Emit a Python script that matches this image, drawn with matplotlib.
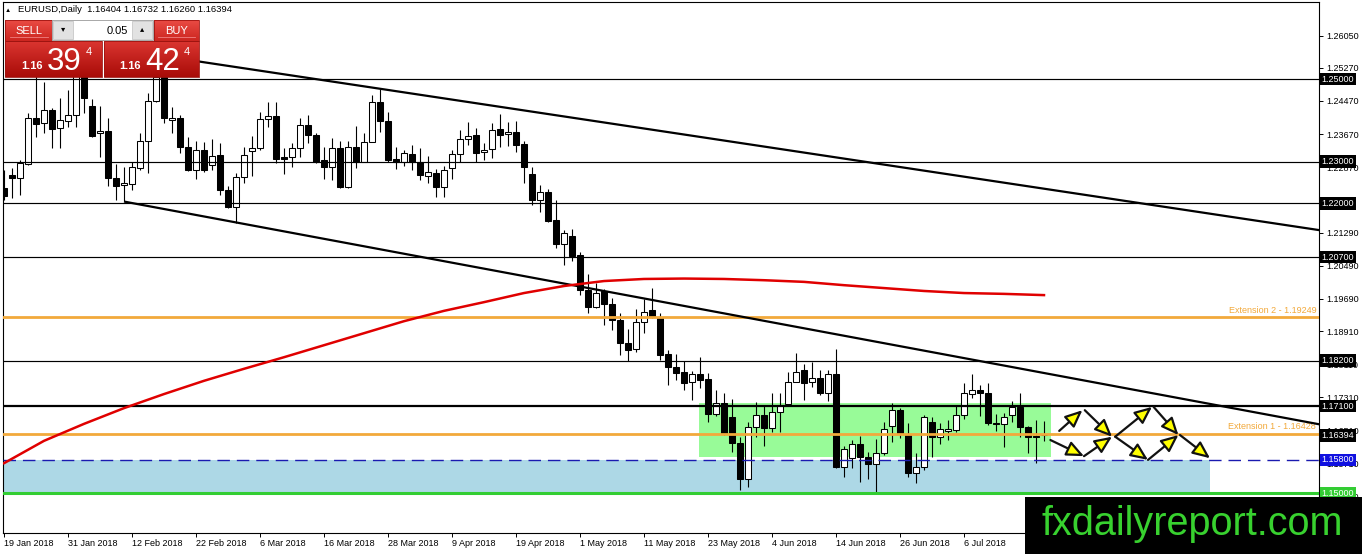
"""EURUSD daily chart, MT4 style, with channel lines and projection arrows."""
import matplotlib
matplotlib.use("Agg")
import matplotlib.pyplot as plt
import numpy as np
from matplotlib.patches import Rectangle

plt.rcParams['font.family'] = ['Liberation Sans', 'DejaVu Sans']

W, H = 1362, 554

# ── data ─────────────────────────────────────────────────────────────────────
date_labels = ["19 Jan 2018", "31 Jan 2018", "12 Feb 2018", "22 Feb 2018", "6 Mar 2018",
               "16 Mar 2018", "28 Mar 2018", "9 Apr 2018", "19 Apr 2018", "1 May 2018",
               "11 May 2018", "23 May 2018", "4 Jun 2018", "14 Jun 2018", "26 Jun 2018",
               "6 Jul 2018"]
label_bars = [0, 8, 16, 24, 32, 40, 48, 56, 64, 72, 80, 88, 96, 104, 112, 120]

opens = [1.2237, 1.2268, 1.2261, 1.2295, 1.2405, 1.2393, 1.2425, 1.2381, 1.2399, 1.2413,
         1.2508, 1.2435, 1.2369, 1.2374, 1.2262, 1.2243, 1.2246, 1.2286, 1.2350, 1.2448,
         1.2505, 1.2401, 1.2407, 1.2335, 1.2280, 1.2328, 1.2292, 1.2316, 1.2232, 1.2192,
         1.2264, 1.2326, 1.2333, 1.2403, 1.2411, 1.2311, 1.2311, 1.2333, 1.2388, 1.2365,
         1.2304, 1.2287, 1.2333, 1.2238, 1.2335, 1.2300, 1.2349, 1.2445, 1.2399, 1.2306,
         1.2300, 1.2319, 1.2300, 1.2266, 1.2274, 1.2238, 1.2284, 1.2319, 1.2354, 1.2365,
         1.2323, 1.2330, 1.2379, 1.2366, 1.2373, 1.2343, 1.2270, 1.2208, 1.2228, 1.2159,
         1.2101, 1.2121, 1.2075, 1.1990, 1.1949, 1.1989, 1.1957, 1.1918, 1.1863, 1.1847,
         1.1912, 1.1942, 1.1922, 1.1836, 1.1804, 1.1793, 1.1769, 1.1787, 1.1775, 1.1692,
         1.1717, 1.1683, 1.1620, 1.1535, 1.1659, 1.1688, 1.1656, 1.1696, 1.1715, 1.1769,
         1.1797, 1.1769, 1.1779, 1.1741, 1.1787, 1.1563, 1.1584, 1.1618, 1.1586, 1.1569,
         1.1597, 1.1662, 1.1700, 1.1642, 1.1549, 1.1563, 1.1672, 1.1635, 1.1650, 1.1652,
         1.1688, 1.1738, 1.1749, 1.1741, 1.1670, 1.1667, 1.1688, 1.1708, 1.1659, 1.1638,
         1.16404]
highs = [1.2280, 1.2284, 1.2304, 1.2417, 1.2537, 1.2493, 1.2430, 1.2453, 1.2473, 1.2523,
         1.2518, 1.2452, 1.2435, 1.2405, 1.2295, 1.2287, 1.2300, 1.2369, 1.2465, 1.2512,
         1.2555, 1.2433, 1.2413, 1.2359, 1.2351, 1.2349, 1.2354, 1.2345, 1.2241, 1.2274,
         1.2336, 1.2362, 1.2421, 1.2445, 1.2445, 1.2333, 1.2345, 1.2407, 1.2413, 1.2370,
         1.2335, 1.2357, 1.2351, 1.2350, 1.2386, 1.2370, 1.2461, 1.2475, 1.2421, 1.2336,
         1.2328, 1.2341, 1.2333, 1.2314, 1.2282, 1.2290, 1.2328, 1.2377, 1.2397, 1.2381,
         1.2345, 1.2394, 1.2415, 1.2397, 1.2399, 1.2351, 1.2288, 1.2244, 1.2234, 1.2208,
         1.2135, 1.2137, 1.2083, 1.2029, 1.2008, 1.1992, 1.1970, 1.1935, 1.1895, 1.1944,
         1.1968, 1.1994, 1.1935, 1.1845, 1.1836, 1.1820, 1.1795, 1.1828, 1.1789, 1.1749,
         1.1741, 1.1726, 1.1636, 1.1672, 1.1721, 1.1713, 1.1742, 1.1741, 1.1793, 1.1837,
         1.1812, 1.1817, 1.1797, 1.1798, 1.1849, 1.1614, 1.1628, 1.1638, 1.1600, 1.1630,
         1.1672, 1.1718, 1.1705, 1.1668, 1.1597, 1.1688, 1.1684, 1.1670, 1.1676, 1.1713,
         1.1766, 1.1787, 1.1761, 1.1765, 1.1692, 1.1694, 1.1722, 1.1742, 1.1662, 1.1676,
         1.16732]
lows = [1.2208, 1.2213, 1.2220, 1.2292, 1.2361, 1.2370, 1.2333, 1.2333, 1.2385, 1.2384,
        1.2418, 1.2360, 1.2312, 1.2242, 1.2208, 1.2205, 1.2232, 1.2280, 1.2274, 1.2445,
        1.2393, 1.2369, 1.2321, 1.2278, 1.2258, 1.2276, 1.2280, 1.2220, 1.2188, 1.2151,
        1.2250, 1.2266, 1.2328, 1.2383, 1.2296, 1.2271, 1.2288, 1.2312, 1.2345, 1.2298,
        1.2258, 1.2256, 1.2237, 1.2237, 1.2284, 1.2299, 1.2348, 1.2373, 1.2299, 1.2282,
        1.2290, 1.2280, 1.2256, 1.2248, 1.2216, 1.2214, 1.2258, 1.2300, 1.2341, 1.2300,
        1.2304, 1.2308, 1.2336, 1.2338, 1.2324, 1.2248, 1.2196, 1.2179, 1.2155, 1.2093,
        1.2051, 1.2061, 1.1978, 1.1934, 1.1946, 1.1906, 1.1894, 1.1833, 1.1820, 1.1841,
        1.1887, 1.1923, 1.1821, 1.1761, 1.1773, 1.1749, 1.1725, 1.1753, 1.1672, 1.1686,
        1.1640, 1.1600, 1.1507, 1.1515, 1.1636, 1.1614, 1.1648, 1.1648, 1.1715, 1.1768,
        1.1725, 1.1757, 1.1737, 1.1723, 1.1560, 1.1539, 1.1560, 1.1527, 1.1533, 1.1503,
        1.1592, 1.1624, 1.1632, 1.1538, 1.1523, 1.1556, 1.1588, 1.1618, 1.1628, 1.1648,
        1.1678, 1.1729, 1.1686, 1.1664, 1.1650, 1.1610, 1.1672, 1.1636, 1.1597, 1.1572,
        1.16260]
closes = [1.2217, 1.2260, 1.2296, 1.2405, 1.2391, 1.2425, 1.2379, 1.2401, 1.2413, 1.2508,
          1.2453, 1.2362, 1.2375, 1.2262, 1.2242, 1.2248, 1.2288, 1.2350, 1.2448, 1.2505,
          1.2405, 1.2405, 1.2335, 1.2280, 1.2328, 1.2280, 1.2315, 1.2232, 1.2192, 1.2264,
          1.2316, 1.2333, 1.2403, 1.2411, 1.2307, 1.2306, 1.2333, 1.2388, 1.2365, 1.2300,
          1.2287, 1.2333, 1.2238, 1.2335, 1.2300, 1.2349, 1.2445, 1.2399, 1.2304, 1.2300,
          1.2321, 1.2300, 1.2268, 1.2275, 1.2238, 1.2280, 1.2319, 1.2354, 1.2363, 1.2322,
          1.2328, 1.2377, 1.2365, 1.2373, 1.2341, 1.2287, 1.2208, 1.2228, 1.2158, 1.2101,
          1.2127, 1.2072, 1.1990, 1.1949, 1.1984, 1.1957, 1.1918, 1.1862, 1.1845, 1.1914,
          1.1938, 1.1926, 1.1833, 1.1804, 1.1791, 1.1766, 1.1787, 1.1773, 1.1692, 1.1717,
          1.1642, 1.1620, 1.1535, 1.1659, 1.1688, 1.1656, 1.1696, 1.1713, 1.1769, 1.1793,
          1.1765, 1.1779, 1.1741, 1.1787, 1.1563, 1.1606, 1.1618, 1.1586, 1.1569, 1.1597,
          1.1654, 1.1700, 1.1642, 1.1549, 1.1563, 1.1683, 1.1635, 1.1654, 1.1654, 1.1688,
          1.1741, 1.1749, 1.1741, 1.1668, 1.1666, 1.1683, 1.1707, 1.1659, 1.1636, 1.1636,
          1.16394]

# moving average (red), sampled every 5 bars
ma_bars = [0, 5, 10, 15, 20, 25, 30, 35, 40, 45, 50, 55, 60, 65, 70, 75, 80, 85, 90,
           95, 100, 105, 110, 115, 120, 125, 130]
ma_vals = [1.1572, 1.1626, 1.1667, 1.1705, 1.1739, 1.1771, 1.1800, 1.1828, 1.1857, 1.1886,
           1.1915, 1.1940, 1.1961, 1.1983, 1.2000, 1.2012, 1.2017, 1.2018, 1.2017, 1.2014,
           1.2010, 1.2002, 1.1995, 1.1988, 1.1983, 1.1981, 1.1978]

black_levels = [1.25, 1.23, 1.22, 1.207, 1.182, 1.171]
ext_levels = [1.19249, 1.16428]
ext_names = ["Extension 2 - 1.19249", "Extension 1 - 1.16428"]
support_blue = 1.158
support_green = 1.150
last_price = 1.16394

upper_line = ([20, 164.4], [1.2555, 1.2135])
lower_line = ([15, 164.4], [1.2204, 1.1666])

blue_zone = (-1, 150.75, 1.150, 1.158)
green_zone = (86.9, 130.9, 1.1586, 1.1718)

# projected path (start bar, start price, end bar, end price)
arrows = [(131.9, 1.1650, 134.8, 1.1700), (135.1, 1.1700, 138.5, 1.1636),
          (130.8, 1.1628, 135.0, 1.1589), (135.0, 1.1589, 138.5, 1.1636),
          (138.9, 1.1636, 143.5, 1.1708), (138.9, 1.1636, 143.0, 1.1580),
          (143.7, 1.1708, 146.8, 1.1640), (143.0, 1.1580, 146.8, 1.1640),
          (147.0, 1.1640, 150.75, 1.1584)]

yticks = [1.2605, 1.2527, 1.2447, 1.2367, 1.2287, 1.2207, 1.2129, 1.2049, 1.1969,
          1.1891, 1.1811, 1.1731, 1.1651, 1.1571, 1.1491]
hidden_ticks = [1.2207]   # fully covered by the 1.22000 price box

# ── figure ───────────────────────────────────────────────────────────────────
fig = plt.figure(figsize=(W / 100, H / 100), dpi=100)
fig.patch.set_facecolor("white")
ax = fig.add_axes([3 / W, (H - 533) / H, (1319 - 3) / W, (533 - 2) / H])
ax.set_xlim(-0.125, 164.375)
ax.set_ylim(1.14034, 1.26860)

ORANGE = "#F2A93B"

# zones
ax.fill_between([blue_zone[0], blue_zone[1]], blue_zone[2], blue_zone[3],
                color="#ADD8E6", lw=0, zorder=1)
ax.fill_between([green_zone[0], green_zone[1]], green_zone[2], green_zone[3],
                color="#98FB98", lw=0, zorder=1.5)

# candles
idx = np.arange(len(opens))
o, h, l, c = map(np.array, (opens, highs, lows, closes))
ax.vlines(idx, l, h, color="black", lw=0.8, zorder=3)
bull = c >= o
ax.bar(idx, np.abs(c - o), bottom=np.minimum(o, c), width=0.7,
       color=np.where(bull, "white", "black"), edgecolor="black", lw=0.75, zorder=4)

# horizontal levels
for lv in black_levels:
    ax.axhline(lv, color="black", lw=1.6 if lv == 1.171 else 0.85, zorder=5)
for lv, nm in zip(ext_levels, ext_names):
    ax.axhline(lv, color=ORANGE, lw=2.0, zorder=5)
    ax.annotate(nm, xy=(1.0, lv), xycoords=ax.get_yaxis_transform(),
                xytext=(-2, 1.8), textcoords="offset points", ha="right", va="bottom",
                color=ORANGE, fontsize=6.5, zorder=6)
ax.axhline(support_blue, color="#1A1AB0", lw=1.0, dashes=(9, 5), zorder=5)
ax.axhline(support_green, color="#32CD32", lw=2.2, zorder=5)

# trend lines and MA
ax.plot(*upper_line, color="black", lw=1.6, zorder=6, solid_capstyle="butt")
ax.plot(*lower_line, color="black", lw=1.6, zorder=6, solid_capstyle="butt")
ax.plot(ma_bars, ma_vals, color="#E00000", lw=1.8, zorder=6)

for x0, y0, x1, y1 in arrows:
    ax.annotate("", xy=(x1, y1), xytext=(x0, y0),
                arrowprops=dict(arrowstyle="-|>,head_length=0.75,head_width=0.33",
                                ec="#111111", fc="#FFFF00", lw=1.6, mutation_scale=14,
                                shrinkA=0, shrinkB=0),
                zorder=7)

# axes styling
for sp in ax.spines.values():
    sp.set_color("black")
    sp.set_linewidth(0.8)
ax.yaxis.tick_right()
ax.set_yticks(yticks)
ax.set_yticklabels(["" if v in hidden_ticks else f"{v:.5f}" for v in yticks])
ax.tick_params(axis="y", labelsize=6.5, length=3, pad=2, width=0.7)
ax.set_xticks(label_bars)
ax.set_xticklabels(date_labels, ha="left")
ax.tick_params(axis="x", labelsize=6.5, length=3, pad=1.5, width=0.7)

def price_box(val, fc, tc="white"):
    ax.text(1.0018, val, f"{val:.5f}", transform=ax.get_yaxis_transform(),
            ha="left", va="center", fontsize=6.5, color=tc, zorder=20, clip_on=False,
            bbox=dict(boxstyle="square,pad=0.2", fc=fc, ec="none"))

for lv in black_levels + [last_price]:
    price_box(lv, "black")
price_box(support_blue, "#1010E0")
price_box(support_green, "#33CC33")

# ── overlay: header, trade panel, watermark ─────────────────────────────────
ov = fig.add_axes([0, 0, 1, 1], zorder=10)
ov.set_xlim(0, W)
ov.set_ylim(H, 0)
ov.axis("off")
ov.patch.set_alpha(0)

ov.text(5, 10, "▲", fontsize=4.5, va="center", ha="left")
ov.text(18, 10, "EURUSD,Daily  1.16404 1.16732 1.16260 1.16394", fontsize=6.8,
        va="center", ha="left")

def grad_box(x0, y0, x1, y1, top, bottom):
    g = np.linspace(0, 1, 32).reshape(-1, 1)
    t = np.array(matplotlib.colors.to_rgb(top))
    b = np.array(matplotlib.colors.to_rgb(bottom))
    img = t + (b - t) * g[..., None]
    ov.imshow(img, extent=(x0, x1, y1, y0), aspect="auto", zorder=1,
              interpolation="bilinear")
    ov.add_patch(Rectangle((x0, y0), x1 - x0, y1 - y0, fill=False, ec="#9E1410",
                           lw=0.6, zorder=2))

grad_box(5, 20, 52, 41, "#EA4B44", "#CC2620")
grad_box(154, 20, 199, 41, "#EA4B44", "#CC2620")
grad_box(5, 41, 102, 77, "#DA3530", "#A90C08")
grad_box(104, 41, 199, 77, "#DA3530", "#A90C08")
ov.plot([10, 48], [36.5, 36.5], color="#F08080", lw=0.6, zorder=3)
ov.plot([158, 195], [36.5, 36.5], color="#F08080", lw=0.6, zorder=3)

ov.add_patch(Rectangle((52, 20), 101, 20, fc="white", ec="#A8A8A8", lw=0.7, zorder=2))
ov.add_patch(Rectangle((53, 21), 20, 18, fc="#E2E2E2", ec="#C0C0C0", lw=0.5, zorder=3))
ov.add_patch(Rectangle((132, 21), 20, 18, fc="#E2E2E2", ec="#C0C0C0", lw=0.5, zorder=3))
ov.text(63, 30, "▾", fontsize=6, ha="center", va="center", zorder=4)
ov.text(142, 30, "▴", fontsize=6, ha="center", va="center", zorder=4)
ov.text(128, 30.5, "0.05", fontsize=8, ha="right", va="center", zorder=4)

ov.text(28.5, 30.5, "SELL", fontsize=8, color="white", ha="center", va="center", zorder=4)
ov.text(176.5, 30.5, "BUY", fontsize=8, color="white", ha="center", va="center", zorder=4)
for bx, big in ((0, "39"), (98, "42")):
    ov.text(21 + bx, 69, "1.16", fontsize=8, fontweight="bold", color="white",
            ha="left", va="baseline", zorder=4)
    ov.text(47 + bx, 70, big, fontsize=22.5, color="white", ha="left",
            va="baseline", zorder=4)
    ov.text(86 + bx, 55, "4", fontsize=8, color="white", ha="left",
            va="baseline", zorder=4)

ov.add_patch(Rectangle((1025, 497), W - 1025, H - 497, fc="black", ec="none", zorder=5))
ov.text(1042, 535, "fxdailyreport.com", fontsize=28.5, color="#38D12F",
        ha="left", va="baseline", zorder=6)

fig.savefig("out.png", dpi=100)
